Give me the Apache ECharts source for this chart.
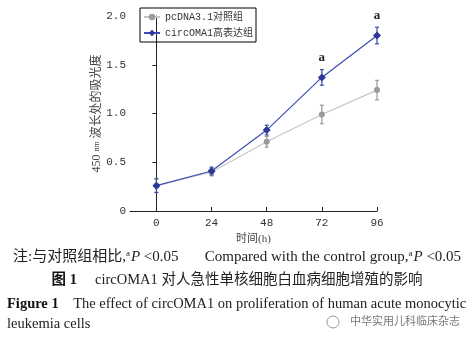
<!DOCTYPE html>
<html><head><meta charset="utf-8">
<script src="https://cdn.jsdelivr.net/npm/echarts@6/dist/echarts.min.js"></script>
<style>html,body{margin:0;padding:0;background:#fff}#c{width:474px;height:339px}</style>
</head><body><div id="c"></div>
<script>
const hours = [0, 24, 48, 72, 96];
const yTicks = [0, 0.5, 1.0, 1.5, 2.0];
const controlName = 'pcDNA3.1对照组';
const highName = 'circOMA1高表达组';
const controlMean = [0.26, 0.40, 0.71, 0.99, 1.24];
const controlErr = [0.07, 0.04, 0.055, 0.095, 0.10];
const highMean = [0.26, 0.41, 0.83, 1.37, 1.80];
const highErr = [0.07, 0.04, 0.05, 0.08, 0.085];
const sigMark = ['', '', '', 'a', 'a'];

const serif = "'Liberation Serif','Noto Sans CJK SC',serif";
const mono = "'Liberation Mono','Noto Sans CJK SC',monospace";

function errData(mean, err) { return hours.map((h, i) => [h, mean[i] - err[i], mean[i] + err[i]]); }
function errSeries(mean, err, color, z) {
  return {
    type: 'custom', z: z, silent: true,
    data: errData(mean, err),
    renderItem: function (params, api) {
      const x = api.value(0);
      const lo = api.coord([x, api.value(1)]);
      const hi = api.coord([x, api.value(2)]);
      const w = 2;
      const st = { stroke: color, lineWidth: 1.2 };
      return { type: 'group', children: [
        { type: 'line', shape: { x1: lo[0], y1: lo[1], x2: hi[0], y2: hi[1] }, style: st },
        { type: 'line', shape: { x1: lo[0] - w, y1: lo[1], x2: lo[0] + w, y2: lo[1] }, style: st },
        { type: 'line', shape: { x1: hi[0] - w, y1: hi[1], x2: hi[0] + w, y2: hi[1] }, style: st }
      ]};
    }
  };
}

const chart = echarts.init(document.getElementById('c'));
chart.setOption({
  animation: false,
  backgroundColor: '#fff',
  grid: { left: 130, right: 97, top: 16, bottom: 128 },
  legend: {
    left: 140, top: 8, orient: 'vertical', itemGap: 6, itemWidth: 16, itemHeight: 8,
    padding: [4, 3, 4, 3], borderColor: '#000', borderWidth: 1,
    textStyle: { fontFamily: mono, fontSize: 10, color: '#333' },
    data: [controlName, highName]
  },
  xAxis: {
    type: 'value', min: -11.5, max: 96,
    axisLine: { lineStyle: { color: '#222', width: 1 } },
    axisTick: { inside: true, length: 4, lineStyle: { color: '#222' }, customValues: hours },
    axisLabel: { customValues: hours, color: '#333', fontFamily: mono, fontSize: 11, margin: 7 },
    splitLine: { show: false },
    name: '时间(h)', nameLocation: 'middle', nameGap: 23, nameMoveOverlap: false,
    nameTextStyle: { fontFamily: serif, fontSize: 11, color: '#444' }
  },
  yAxis: {
    type: 'value', min: 0, max: 2.0, interval: 0.5,
    axisLine: { show: true, lineStyle: { color: '#222', width: 1 } },
    axisTick: { show: true, length: 4, lineStyle: { color: '#222' } },
    axisLabel: { color: '#333', fontFamily: mono, fontSize: 11, margin: 4,
      formatter: v => v === 0 ? '0' : v.toFixed(1) },
    splitLine: { show: false },
    name: '450 {s|nm} 波长处的吸光度', nameLocation: 'middle', nameGap: 27, nameRotate: 90,
    nameMoveOverlap: false,
    nameTextStyle: { fontFamily: serif, fontSize: 12, color: '#444',
      rich: { s: { fontSize: 8, fontFamily: serif, color: '#444' } } }
  },
  series: [
    errSeries(controlMean, controlErr, '#9a9a9a', 3),
    errSeries(highMean, highErr, '#3a4aa8', 4),
    {
      name: controlName, type: 'line', z: 5,
      data: hours.map((h, i) => [h, controlMean[i]]),
      symbol: 'circle', symbolSize: 6,
      lineStyle: { color: '#c9c3c3', width: 1.2 },
      itemStyle: { color: '#9a9a9a' }
    },
    {
      name: highName, type: 'line', z: 6,
      data: hours.map((h, i) => [h, highMean[i]]),
      symbol: 'diamond', symbolSize: 8,
      lineStyle: { color: '#3d4db2', width: 1.2 },
      itemStyle: { color: '#2b3898' },
      label: { show: true, position: 'top', distance: 9,
        formatter: p => sigMark[p.dataIndex],
        fontFamily: serif, fontWeight: 'bold', fontSize: 13, color: '#222' }
    }
  ],
  graphic: [
    { type: 'text', left: 13, top: 249, style: {
      text: '注:与对照组相比,{sup|a}{it|P} <0.05       Compared with the control group,{sup|a}{it|P} <0.05',
      fontFamily: serif, fontSize: 15, fill: '#222',
      rich: { sup: { fontSize: 9, verticalAlign: 'top', padding: [0,1,7,0], fontFamily: serif, fill: '#222' },
              it: { fontStyle: 'italic', fontSize: 15, fontFamily: serif, fill: '#222' } } } },
    { type: 'text', left: 'center', top: 273, style: {
      text: '{b|图 1}     circOMA1 对人急性单核细胞白血病细胞增殖的影响',
      fontFamily: serif, fontSize: 14.5, fill: '#222',
      rich: { b: { fontWeight: 'bold', fontSize: 14.5, fontFamily: serif, fill: '#111' } } } },
    { type: 'text', left: 7, top: 297, style: {
      text: '{b|Figure 1}    The effect of circOMA1 on proliferation of human acute monocytic',
      fontFamily: serif, fontSize: 14.5, fill: '#222',
      rich: { b: { fontWeight: 'bold', fontSize: 14.5, fontFamily: serif, fill: '#111' } } } },
    { type: 'text', left: 7, top: 317, style: {
      text: 'leukemia cells', fontFamily: serif, fontSize: 14.5, fill: '#222' } },
    { type: 'text', left: 350, top: 315, style: {
      text: '中华实用儿科临床杂志', fontFamily: "'Noto Sans CJK SC',sans-serif", fontSize: 11, fill: '#777' } },
    { type: 'circle', shape: { cx: 333, cy: 322, r: 6 }, style: { fill: 'none', stroke: '#999', lineWidth: 1 } }
  ]
});
</script>
</body></html>
